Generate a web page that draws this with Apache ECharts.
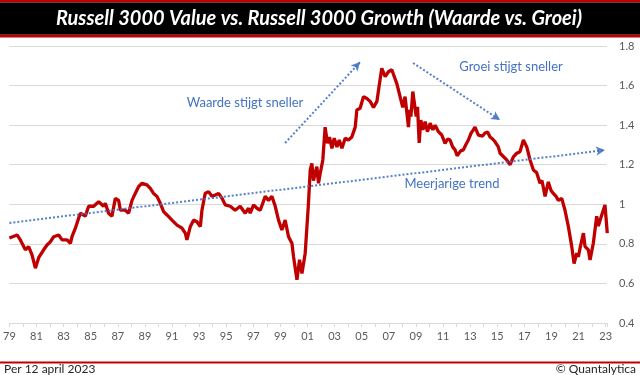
<!DOCTYPE html>
<html>
<head>
<meta charset="utf-8">
<script src="https://cdn.jsdelivr.net/npm/echarts@6/dist/echarts.min.js"></script>
<style>
  html, body { margin: 0; padding: 0; background: #fff; }
  #main { width: 640px; height: 375px; }
</style>
</head>
<body>
<div id="main"></div>
<script>
// Russell 3000 Value / Russell 3000 Growth
const startYear = 1979;
const dates = [
  1979.0, 1979.57, 1979.81, 1980.18, 1980.42, 1980.67, 1980.92, 1981.16, 1981.53, 1981.78,
  1982.02, 1982.27, 1982.64, 1982.89, 1983.26, 1983.5, 1983.62, 1983.87, 1984.11, 1984.24,
  1984.6, 1984.85, 1985.22, 1985.59, 1985.95, 1986.08, 1986.32, 1986.57, 1986.82, 1987.06,
  1987.19, 1987.55, 1987.8, 1988.05, 1988.29, 1988.54, 1988.79, 1989.15, 1989.4, 1989.64,
  1989.89, 1990.14, 1990.38, 1990.63, 1991.0, 1991.37, 1991.74, 1991.98, 1992.1, 1992.35,
  1992.59, 1992.84, 1993.09, 1993.21, 1993.45, 1993.7, 1993.95, 1994.19, 1994.44, 1994.69,
  1994.93, 1995.3, 1995.66, 1996.03, 1996.4, 1996.65, 1996.77, 1997.02, 1997.27, 1997.51,
  1997.88, 1998.12, 1998.37, 1998.62, 1998.86, 1999.11, 1999.35, 1999.6, 1999.85, 1999.97,
  2000.22, 2000.41, 2000.59, 2000.83, 2001.07, 2001.2, 2001.32, 2001.44, 2001.57, 2001.69,
  2001.81, 2001.94, 2002.13, 2002.3, 2002.47, 2002.62, 2002.8, 2002.97, 2003.17, 2003.34,
  2003.54, 2003.78, 2004.02, 2004.27, 2004.52, 2004.64, 2004.88, 2005.13, 2005.38, 2005.62,
  2005.87, 2006.12, 2006.29, 2006.48, 2006.73, 2006.97, 2007.22, 2007.34, 2007.59, 2007.83,
  2008.03, 2008.2, 2008.45, 2008.53, 2008.63, 2008.77, 2008.89, 2009.02, 2009.12, 2009.24,
  2009.36, 2009.51, 2009.68, 2009.85, 2010.05, 2010.25, 2010.42, 2010.66, 2010.91, 2011.15,
  2011.34, 2011.52, 2011.71, 2011.89, 2012.04, 2012.13, 2012.3, 2012.5, 2012.67, 2012.87,
  2013.07, 2013.24, 2013.36, 2013.49, 2013.61, 2013.73, 2013.92, 2014.1, 2014.29, 2014.47,
  2014.66, 2014.84, 2015.08, 2015.21, 2015.7, 2015.95, 2016.19, 2016.44, 2016.68, 2016.93,
  2017.18, 2017.42, 2017.67, 2017.91, 2018.16, 2018.3, 2018.53, 2018.77, 2018.97, 2019.14,
  2019.34, 2019.51, 2019.76, 2020.0, 2020.25, 2020.5, 2020.67, 2020.87, 2020.99, 2021.11,
  2021.36, 2021.48, 2021.72, 2021.85, 2022.09, 2022.34, 2022.46, 2022.59, 2022.73, 2022.95,
  2023.03, 2023.12
];
const ratio = [
  0.83, 0.845, 0.82, 0.77, 0.786, 0.744, 0.677, 0.73, 0.77, 0.794,
  0.81, 0.836, 0.845, 0.82, 0.82, 0.803, 0.836, 0.879, 0.93, 0.955,
  0.94, 0.99, 0.99, 1.013, 0.99, 1.005, 0.955, 0.94, 1.03, 1.02,
  0.97, 0.97, 0.955, 1.02, 1.055, 1.09, 1.106, 1.098, 1.08, 1.055,
  1.04, 1.005, 0.963, 0.946, 0.92, 0.895, 0.879, 0.854, 0.82, 0.887,
  0.92, 0.912, 0.887, 0.97, 1.055, 1.064, 1.04, 1.047, 1.055, 1.03,
  0.997, 0.99, 0.97, 0.99, 0.955, 0.98, 0.955, 0.997, 0.98, 0.97,
  1.04, 1.02, 1.04, 0.99, 0.92, 0.87, 0.92, 0.836, 0.803, 0.735,
  0.618, 0.72, 0.65, 0.753, 1.005, 1.173, 1.207, 1.12, 1.157, 1.19,
  1.106, 1.157, 1.224, 1.39, 1.308, 1.34, 1.283, 1.334, 1.29, 1.325,
  1.283, 1.334, 1.325, 1.34, 1.39, 1.477, 1.485, 1.544, 1.535, 1.52,
  1.49, 1.52, 1.6, 1.687, 1.645, 1.67, 1.68, 1.675, 1.61, 1.544,
  1.49, 1.544, 1.39, 1.477, 1.443, 1.57, 1.56, 1.443, 1.493, 1.31,
  1.426, 1.376, 1.418, 1.367, 1.41, 1.376, 1.4, 1.367, 1.35, 1.308,
  1.33, 1.325, 1.29, 1.275, 1.245, 1.25, 1.27, 1.275, 1.3, 1.325,
  1.36, 1.376, 1.39, 1.384, 1.35, 1.34, 1.345, 1.36, 1.365, 1.34,
  1.33, 1.316, 1.29, 1.258, 1.224, 1.2, 1.24, 1.258, 1.266, 1.325,
  1.29, 1.224, 1.173, 1.16, 1.106, 1.12, 1.04, 1.113, 1.07, 1.055,
  1.04, 1.02, 1.03, 0.97, 0.887, 0.786, 0.70, 0.753, 0.735, 0.778,
  0.854, 0.786, 0.77, 0.719, 0.803, 0.94, 0.89, 0.887, 0.95, 0.997,
  0.93, 0.854
];
const yearLabels = ['79', '81', '83', '85', '87', '89', '91', '93', '95', '97', '99',
  '01', '03', '05', '07', '09', '11', '13', '15', '17', '19', '21', '23'];
const yTicks = [0.4, 0.6, 0.8, 1, 1.2, 1.4, 1.6, 1.8];

// dotted arrows: [startYear, startValue], [endYear, endValue]
const trendLine = [[1979.0, 0.906], [2022.95, 1.274]];
const valueArrow = [[1999.35, 1.31], [2004.88, 1.719]];
const growthArrow = [[2008.79, 1.714], [2015.21, 1.426]];

const red = '#c00000';
const blue = '#4472c4';
const font = 'Lato, "Open Sans", sans-serif';

const chart = echarts.init(document.getElementById('main'));

const arrowLine = (pts) => [
  { coord: [pts[0][0] - startYear, pts[0][1]] },
  { coord: [pts[1][0] - startYear, pts[1][1]] }
];

chart.setOption({
  animation: false,
  textStyle: { fontFamily: font },
  grid: { left: 9, right: 33, top: 46, bottom: 52 },
  xAxis: {
    type: 'value',
    min: 0,
    max: 44.1,
    interval: 1,
    axisLine: { lineStyle: { color: '#d9d9d9' } },
    axisTick: { lineStyle: { color: '#d9d9d9' }, length: 4 },
    splitLine: { show: false },
    axisLabel: {
      color: '#595959',
      fontSize: 11,
      margin: 8,
      fontFamily: font,
      formatter: (v) => {
        const i = Math.round(v);
        if (Math.abs(v - i) > 1e-6 || i % 2 !== 0) return '';
        return yearLabels[i / 2] || '';
      }
    }
  },
  yAxis: {
    type: 'value',
    position: 'right',
    min: yTicks[0],
    max: yTicks[yTicks.length - 1],
    interval: 0.2,
    axisLine: { show: false },
    axisTick: { show: false },
    splitLine: { lineStyle: { color: '#d9d9d9' } },
    axisLabel: {
      color: '#595959',
      fontSize: 11,
      margin: 12,
      align: 'left',
      fontFamily: font,
      formatter: (v) => String(+v.toFixed(1))
    }
  },
  series: [
    {
      type: 'line',
      data: dates.map((d, i) => [d - startYear, ratio[i]]),
      showSymbol: false,
      lineStyle: { color: red, width: 3.3 },
      z: 3
    },
    {
      type: 'line',
      data: [],
      silent: true,
      z: 4,
      markLine: {
        silent: true,
        symbol: ['none', 'arrow'],
        symbolSize: [7, 9],
        label: { show: false },
        lineStyle: { color: blue, width: 2, type: 'dotted', opacity: 0.9 },
        data: [arrowLine(trendLine), arrowLine(valueArrow), arrowLine(growthArrow)]
      }
    }
  ],
  graphic: [
    { type: 'rect', left: 0, top: 0, shape: { width: 640, height: 2.5 }, style: { fill: red } },
    { type: 'rect', left: 0, top: 2.5, shape: { width: 640, height: 32.2 }, style: { fill: '#000' } },
    { type: 'rect', left: 0, top: 34.7, shape: { width: 640, height: 2.8 }, style: { fill: red } },
    {
      type: 'text', x: 319, y: 19,
      style: {
        text: 'Russell 3000 Value vs. Russell 3000 Growth (Waarde vs. Groei)',
        fill: '#fff', font: 'italic bold 20px ' + font,
        align: 'center', verticalAlign: 'middle',
        textShadowColor: 'rgba(0,0,0,0.8)', textShadowBlur: 2
      }
    },
    {
      type: 'text', x: 245, y: 103,
      style: { text: 'Waarde stijgt sneller', fill: blue, font: '13px ' + font, align: 'center', verticalAlign: 'middle' }
    },
    {
      type: 'text', x: 511, y: 67,
      style: { text: 'Groei stijgt sneller', fill: blue, font: '13px ' + font, align: 'center', verticalAlign: 'middle' }
    },
    {
      type: 'text', x: 452, y: 184,
      style: { text: 'Meerjarige trend', fill: blue, font: '13px ' + font, align: 'center', verticalAlign: 'middle' }
    },
    { type: 'rect', left: 0, top: 361.5, shape: { width: 640, height: 2 }, style: { fill: red } },
    {
      type: 'text', x: 4, y: 369,
      style: { text: 'Per 12 april 2023', fill: '#262626', font: '12px ' + font, align: 'left', verticalAlign: 'middle' }
    },
    {
      type: 'text', x: 636, y: 369,
      style: { text: '© Quantalytica', fill: '#262626', font: '12px ' + font, align: 'right', verticalAlign: 'middle' }
    }
  ]
});
</script>
</body>
</html>
